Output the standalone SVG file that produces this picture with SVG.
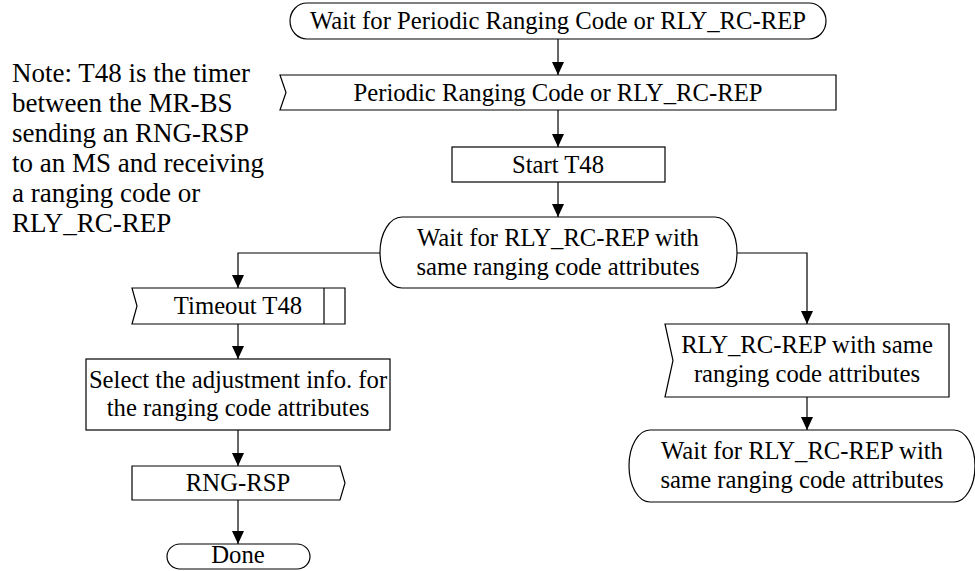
<svg xmlns="http://www.w3.org/2000/svg" width="975" height="571" viewBox="0 0 975 571">
<defs>
<marker id="ah" markerUnits="userSpaceOnUse" markerWidth="13" markerHeight="12" refX="13" refY="6" orient="auto">
<path d="M0,0 L13,6 L0,12 z" fill="#000"/>
</marker>
<style>
.s{fill:#fff;stroke:#000;stroke-width:1.2}
.t{font-family:"Liberation Serif","Times New Roman",serif;font-size:24.7px;fill:#000;text-anchor:middle}
.n{font-family:"Liberation Serif","Times New Roman",serif;font-size:27px;fill:#000}
.c{fill:none;stroke:#000;stroke-width:1.2;marker-end:url(#ah)}
</style>
</defs>
<rect width="975" height="571" fill="#fff"/>
<g id="connectors">
<path class="c" d="M558,39 V75"/>
<path class="c" d="M558,110 V147"/>
<path class="c" d="M558,182 V217"/>
<path class="c" d="M380,253 H238 V288"/>
<path class="c" d="M737,253 H807 V324"/>
<path class="c" d="M238,324 V359"/>
<path class="c" d="M238,430 V466"/>
<path class="c" d="M238,500 V544"/>
<path class="c" d="M807,397 V430"/>
</g>
<g id="note">
<text class="n" x="12" y="82">Note: T48 is the timer</text>
<text class="n" x="12" y="112">between the MR-BS</text>
<text class="n" x="12" y="142">sending an RNG-RSP</text>
<text class="n" x="12" y="172">to an MS and receiving</text>
<text class="n" x="12" y="202">a ranging code or</text>
<text class="n" x="12" y="232">RLY_RC-REP</text>
</g>
<g id="wait-start">
<rect class="s" x="290" y="3" width="536" height="36" rx="17" ry="18"/>
<text class="t" x="558" y="29">Wait for Periodic Ranging Code or RLY_RC-REP</text>
</g>
<g id="periodic-input">
<polygon class="s" points="280,75 836,75 836,110 280,110 286,92.5"/>
<text class="t" x="558" y="101">Periodic Ranging Code or RLY_RC-REP</text>
</g>
<g id="start-t48">
<rect class="s" x="452" y="147" width="213" height="35"/>
<text class="t" x="558" y="172.5">Start T48</text>
</g>
<g id="wait-rly">
<rect class="s" x="380" y="217" width="357" height="71" rx="22" ry="35.5"/>
<text class="t" x="558" y="246">Wait for RLY_RC-REP with</text>
<text class="t" x="558" y="275">same ranging code attributes</text>
</g>
<g id="timeout-t48">
<polygon class="s" points="132,288 345,288 345,324 132,324 137,306"/>
<line x1="324" y1="288" x2="324" y2="324" stroke="#000" stroke-width="1.2"/>
<text class="t" x="238" y="314">Timeout T48</text>
</g>
<g id="select-adj">
<rect class="s" x="86" y="359" width="304" height="71"/>
<text class="t" x="238" y="387.5">Select the adjustment info. for</text>
<text class="t" x="238" y="416">the ranging code attributes</text>
</g>
<g id="rng-rsp">
<polygon class="s" points="132,466 340,466 345,483 340,500 132,500"/>
<text class="t" x="238" y="491">RNG-RSP</text>
</g>
<g id="done">
<rect class="s" x="167" y="544" width="143" height="25" rx="13" ry="12.5"/>
<text class="t" x="238" y="563">Done</text>
</g>
<g id="rly-input">
<polygon class="s" points="665,324 949,324 949,397 665,397 673,360.5"/>
<text class="t" x="807" y="353">RLY_RC-REP with same</text>
<text class="t" x="807" y="382">ranging code attributes</text>
</g>
<g id="wait-rly-2">
<rect class="s" x="629" y="430" width="346" height="72" rx="21" ry="36"/>
<text class="t" x="802" y="459">Wait for RLY_RC-REP with</text>
<text class="t" x="802" y="488">same ranging code attributes</text>
</g>
</svg>
